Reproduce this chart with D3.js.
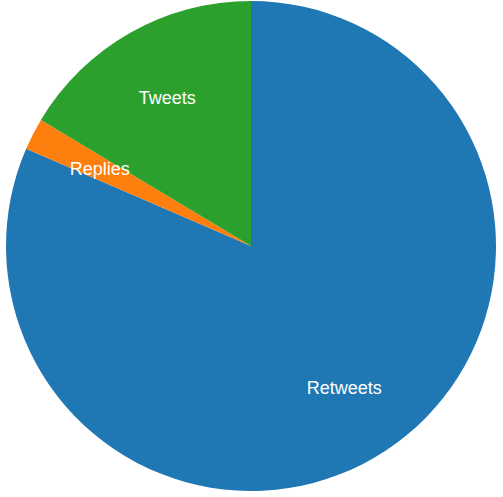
<html>
<head></head>
<body style="margin:0">
<div id="chart-area"></div>
<script src="https://d3js.org/d3.v7.min.js"></script>
<script>
const categories = ["Retweets", "Replies", "Tweets"]
const values = [815, 21, 164]

const W = 503, H = 497
const R = 245
const svg = d3.select("#chart-area").append("svg")
    .attr("width", W).attr("height", H)
const g = svg.append("g").attr("transform", `translate(251, 246)`)

const color = d3.scaleOrdinal().domain(categories).range(d3.schemeCategory10)
const pie = d3.pie().sort(null).value(d => d.value)
const data = pie(categories.map((c, i) => ({ name: c, value: values[i] })))
const arc = d3.arc().innerRadius(0).outerRadius(R)
const labelArc = d3.arc().innerRadius(170).outerRadius(170)

g.selectAll("path").data(data).enter().append("path")
    .attr("d", arc)
    .attr("fill", d => color(d.data.name))

g.selectAll("text").data(data).enter().append("text")
    .attr("transform", d => `translate(${labelArc.centroid(d)})`)
    .attr("dy", "0.35em")
    .attr("text-anchor", "middle")
    .attr("font-family", "Liberation Sans, Arial, sans-serif")
    .attr("font-size", "18px")
    .attr("fill", "white")
    .text(d => d.data.name)
</script>
</body>
</html>
